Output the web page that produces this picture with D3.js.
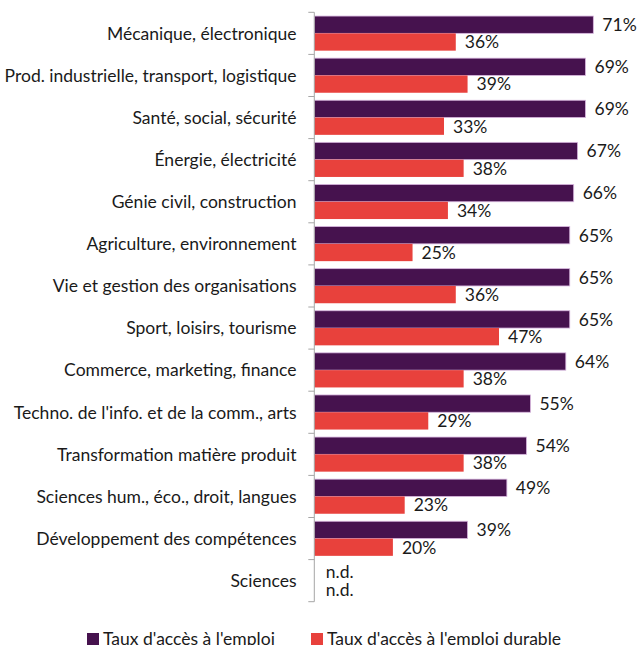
<!DOCTYPE html>
<html>
<head>
<meta charset="utf-8">
<script src="https://cdn.jsdelivr.net/npm/d3@7"></script>
<style>
  body { margin: 0; background: #fff; }
  svg { display: block; font-family: Lato, 'Open Sans', sans-serif; }
</style>
</head>
<body>
<svg id="chart"></svg>
<script>
const WIDTH = 639;
const HEIGHT = 645;

const categories = [
  'Mécanique, électronique',
  'Prod. industrielle, transport, logistique',
  'Santé, social, sécurité',
  'Énergie, électricité',
  'Génie civil, construction',
  'Agriculture, environnement',
  'Vie et gestion des organisations',
  'Sport, loisirs, tourisme',
  'Commerce, marketing, finance',
  "Techno. de l'info. et de la comm., arts",
  'Transformation matière produit',
  'Sciences hum., éco., droit, langues',
  'Développement des compétences',
  'Sciences',
];
const emploi = [71, 69, 69, 67, 66, 65, 65, 65, 64, 55, 54, 49, 39, null];
const emploiDurable = [36, 39, 33, 38, 34, 25, 36, 47, 38, 29, 38, 23, 20, null];
const seriesNames = ["Taux d'accès à l'emploi", "Taux d'accès à l'emploi durable"];

const PURPLE = '#46124e';
const RED = '#e8413c';
const AXIS_COLOR = '#a6a6a6';
const TEXT_COLOR = '#1a1a1a';

const svg = d3.select('#chart').attr('width', WIDTH).attr('height', HEIGHT);

// fit the label font so the longest category is as wide as in the original
const probe = svg.append('text').style('font-size', '100px').text(categories[1]);
const fontSize = (292 / probe.node().getComputedTextLength()) * 100;
probe.remove();

const AXIS_X = 314.3;
const x = d3.scaleLinear().domain([0, 80]).range([AXIS_X, AXIS_X + 314.4]);
const y = d3.scaleBand().domain(categories).range([12.3, 601.7]);
const y1 = d3.scaleBand().domain([0, 1]).range([0, y.bandwidth()]).paddingOuter(0.217);

const rows = categories.map((c, i) => ({
  category: c,
  values: [emploi[i], emploiDurable[i]],
}));

const colors = [PURPLE, RED];

const groups = svg.selectAll('g.row')
  .data(rows)
  .enter()
  .append('g')
  .attr('class', 'row')
  .attr('transform', (d) => `translate(0,${y(d.category)})`);

groups.selectAll('rect')
  .data((d) => d.values.map((v, k) => ({ v, k })).filter((e) => e.v !== null))
  .enter()
  .append('rect')
  .attr('x', x(0))
  .attr('y', (d) => y1(d.k))
  .attr('width', (d) => x(d.v) - x(0))
  .attr('height', y1.bandwidth())
  .attr('fill', (d) => colors[d.k])
  .attr('stroke', (d) => (d.k === 0 ? '#d7b6de' : 'none'))
  .attr('stroke-width', 0.8);

groups.selectAll('text.value')
  .data((d) => d.values.map((v, k) => ({ v, k })))
  .enter()
  .append('text')
  .attr('class', 'value')
  .attr('x', (d) => x(d.v === null ? 0 : d.v) + (d.v === null ? 11.5 : 9))
  .attr('y', (d) => y1(d.k) + y1.bandwidth() / 2)
  .attr('dy', '0.36em')
  .style('font-size', `${fontSize}px`)
  .attr('fill', TEXT_COLOR)
  .text((d) => (d.v === null ? 'n.d.' : `${d.v}%`));

// category labels
svg.selectAll('text.cat')
  .data(categories)
  .enter()
  .append('text')
  .attr('class', 'cat')
  .attr('x', 296.5)
  .attr('y', (d) => y(d) + y.bandwidth() / 2)
  .attr('dy', '0.36em')
  .attr('text-anchor', 'end')
  .style('font-size', `${fontSize}px`)
  .attr('fill', TEXT_COLOR)
  .text((d) => d);

// axis line with ticks between categories (Excel style)
const [y0, yEnd] = y.range();
svg.append('line')
  .attr('x1', AXIS_X).attr('x2', AXIS_X)
  .attr('y1', y0).attr('y2', yEnd)
  .attr('stroke', AXIS_COLOR);

const tickYs = categories.map((c) => y(c)).concat([yEnd]);
svg.selectAll('line.tick')
  .data(tickYs)
  .enter()
  .append('line')
  .attr('class', 'tick')
  .attr('x1', AXIS_X - 6).attr('x2', AXIS_X)
  .attr('y1', (d) => d).attr('y2', (d) => d)
  .attr('stroke', AXIS_COLOR);

// legend
const legendX = [87, 311];
const legend = svg.selectAll('g.legend')
  .data(seriesNames)
  .enter()
  .append('g')
  .attr('class', 'legend')
  .attr('transform', (d, i) => `translate(${legendX[i]},633)`);

legend.append('rect')
  .attr('width', 12)
  .attr('height', 12)
  .attr('fill', (d, i) => colors[i]);

legend.append('text')
  .attr('x', 16)
  .attr('y', 6)
  .attr('dy', '0.36em')
  .style('font-size', `${fontSize}px`)
  .attr('fill', TEXT_COLOR)
  .text((d) => d);
</script>
</body>
</html>
